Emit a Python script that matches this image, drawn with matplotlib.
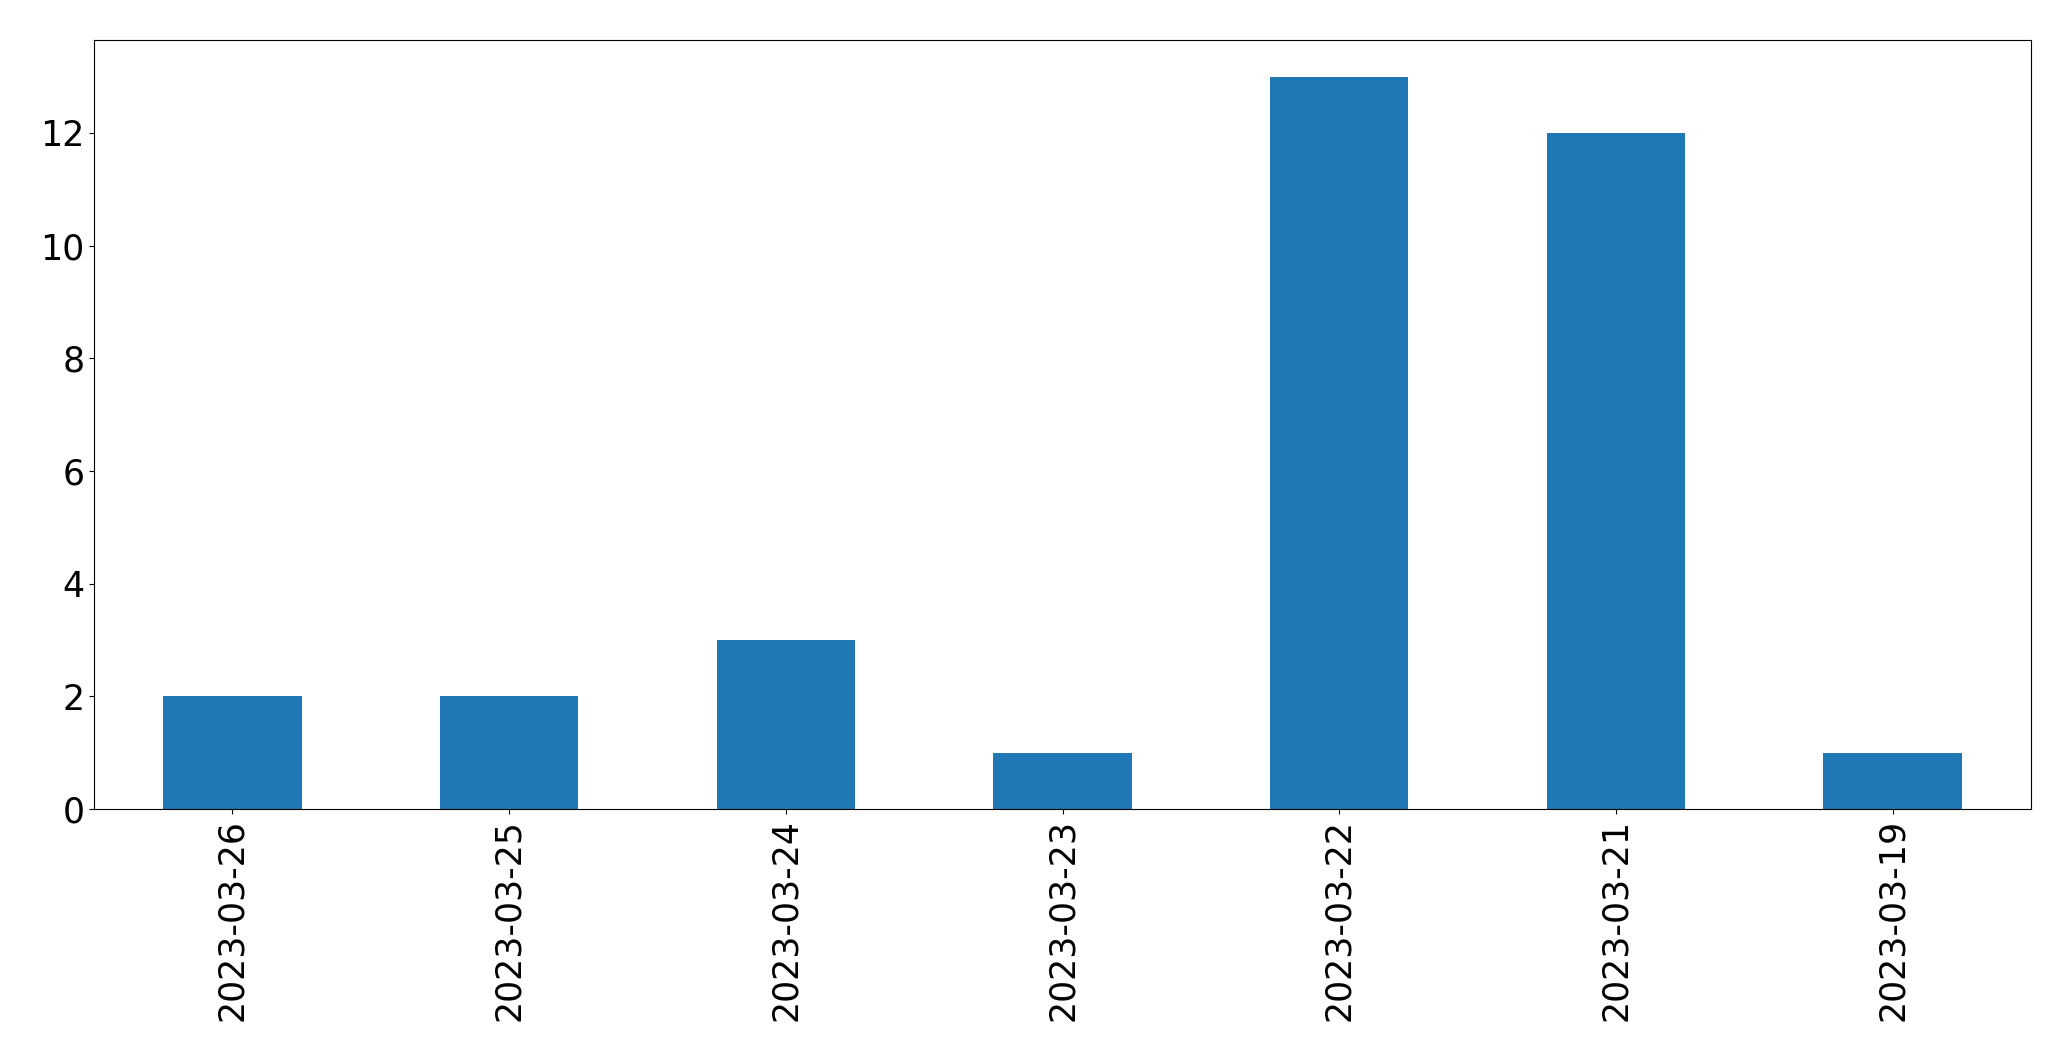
import matplotlib
matplotlib.use("Agg")
import matplotlib.pyplot as plt
import pandas as pd

dates = ["2023-03-26", "2023-03-25", "2023-03-24", "2023-03-23",
         "2023-03-22", "2023-03-21", "2023-03-19"]
counts = [2, 2, 3, 1, 13, 12, 1]

s = pd.Series(counts, index=dates)

fig = plt.figure(figsize=(20.71, 10.61), dpi=100)
ax = fig.add_axes([94 / 2071, 1 - 809 / 1061, (2031 - 94) / 2071, (809 - 40) / 1061])
s.plot(kind="bar", ax=ax, color="#1f77b4", fontsize=25)

fig.savefig("out.png", dpi=100)
